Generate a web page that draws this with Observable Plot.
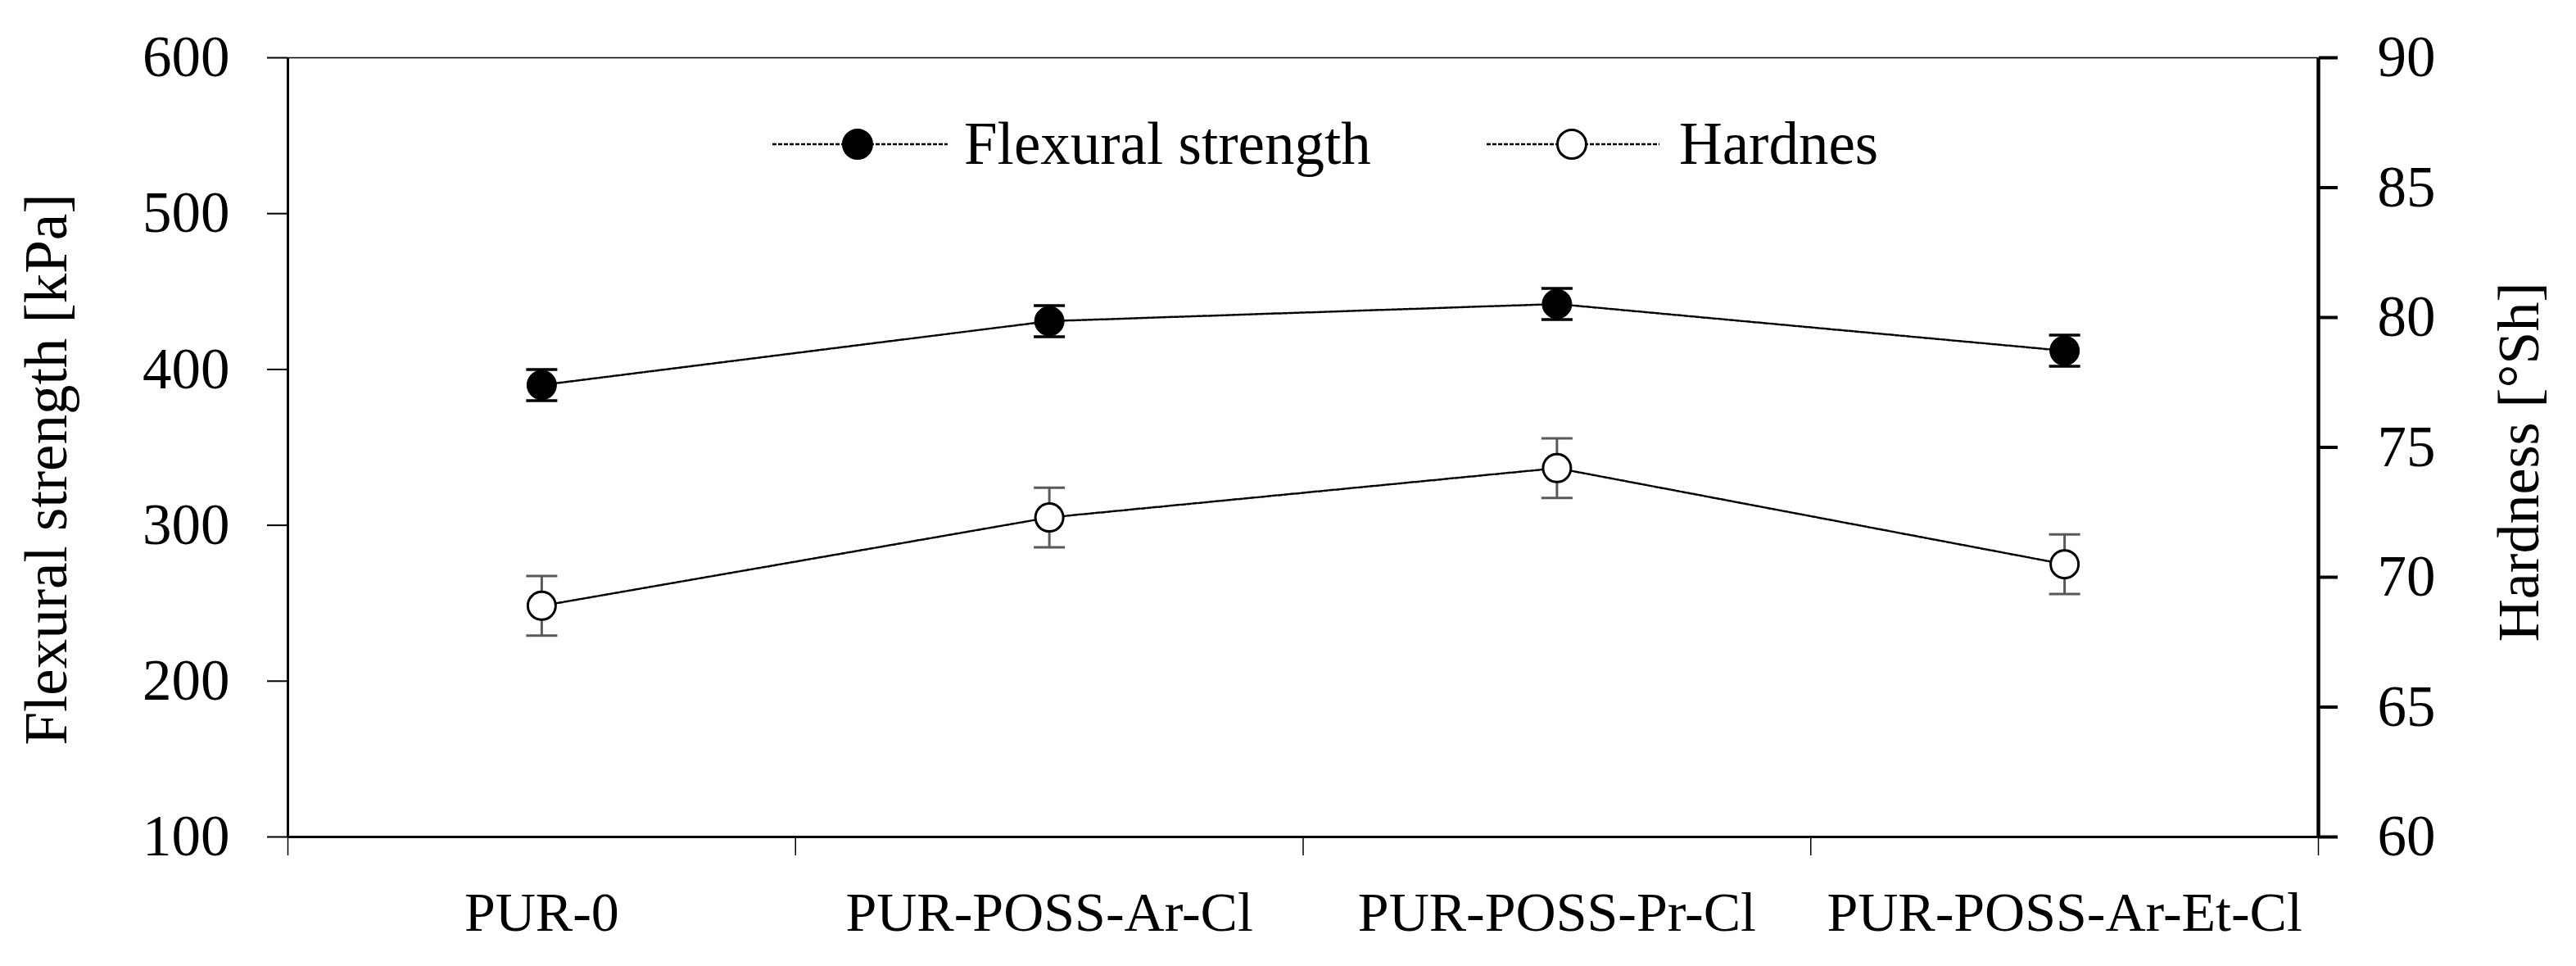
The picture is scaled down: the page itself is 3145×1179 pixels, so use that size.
<!DOCTYPE html>
<html>
<head>
<meta charset="utf-8">
<script src="https://cdn.jsdelivr.net/npm/d3@7"></script>
<script src="https://cdn.jsdelivr.net/npm/@observablehq/plot@0.6"></script>
<style>
  html, body { margin: 0; padding: 0; background: #fff; }
  #wrap { position: relative; width: 3145px; height: 1179px; }
  #legend { position: absolute; left: 0; top: 0; pointer-events: none; }
</style>
</head>
<body>
<div id="wrap"></div>
<script>
// ---- data ----
const categories = ["PUR-0", "PUR-POSS-Ar-Cl", "PUR-POSS-Pr-Cl", "PUR-POSS-Ar-Et-Cl"];
const flexural = [390, 431, 442, 412];
const flexuralErr = [10, 10, 10, 10];
const hardness = [68.9, 72.3, 74.2, 70.5];
const hardnessErr = [1.15, 1.15, 1.15, 1.15];
const leftTicks = [100, 200, 300, 400, 500, 600];
const rightTicks = [60, 65, 70, 75, 80, 85, 90];
const seriesNames = ["Flexural strength", "Hardnes"];
const leftTitle = "Flexural strength [kPa]";
const rightTitle = "Hardness [°Sh]";

// ---- scales helpers ----
const yDomain = [leftTicks[0], leftTicks[leftTicks.length - 1]];
const hDomain = [rightTicks[0], rightTicks[rightTicks.length - 1]];
const toLeft = h => yDomain[0] + (h - hDomain[0]) * (yDomain[1] - yDomain[0]) / (hDomain[1] - hDomain[0]);
const fromLeft = v => hDomain[0] + (v - yDomain[0]) * (hDomain[1] - hDomain[0]) / (yDomain[1] - yDomain[0]);
const xDomain = [0, categories.length];
const boundaries = d3.range(categories.length + 1);
const centers = categories.map((c, i) => i + 0.5);

const flexRows = categories.map((c, i) => ({x: i + 0.5, y: flexural[i], lo: flexural[i] - flexuralErr[i], hi: flexural[i] + flexuralErr[i]}));
const hardRows = categories.map((c, i) => ({x: i + 0.5, y: toLeft(hardness[i]), lo: toLeft(hardness[i] - hardnessErr[i]), hi: toLeft(hardness[i] + hardnessErr[i])}));

const capSymbol = {draw(ctx, size) { const r = Math.sqrt(size / Math.PI); ctx.moveTo(-r, 0); ctx.lineTo(r, 0); }};
const FONT = "Liberation Serif, Times New Roman, serif";
const dash = "5,2";

const chart = Plot.plot({
  width: 3145,
  height: 1179,
  marginLeft: 351,
  marginRight: 315,
  marginTop: 70,
  marginBottom: 158,
  style: {fontFamily: FONT, fontSize: "70px", color: "#000", background: "#fff", overflow: "visible"},
  x: {type: "linear", domain: xDomain},
  y: {type: "linear", domain: yDomain},
  marks: [
    // frame lines
    Plot.ruleY([yDomain[1]], {stroke: "#000", strokeWidth: 1.5}),
    Plot.ruleY([yDomain[0]], {stroke: "#000", strokeWidth: 3}),
    Plot.ruleX([xDomain[0]], {stroke: "#000", strokeWidth: 3}),
    Plot.ruleX([xDomain[1]], {stroke: "#000", strokeWidth: 4.5}),
    // axes (ticks)
    Plot.axisY({anchor: "left", ticks: leftTicks, tickSize: 25, tickPadding: 46, strokeWidth: 2, fontSize: 71, label: null}),
    Plot.axisY({anchor: "right", ticks: rightTicks.map(toLeft), tickFormat: v => String(Math.round(fromLeft(v))),
      tickSize: 23, tickPadding: 49, strokeWidth: 4, fontSize: 71, label: null}),
    Plot.axisX({ticks: boundaries, tickFormat: () => "", tickSize: 23, strokeWidth: 1.5, label: null}),
    Plot.axisX({ticks: centers, tickFormat: v => categories[Math.floor(v)], tickSize: 0, tickPadding: 66, fontSize: 68, label: null}),
    // axis titles
    Plot.text([leftTitle], {text: d => d, frameAnchor: "left", rotate: -90, lineAnchor: "top", textAnchor: "middle",
      dx: -322, dy: 27, fontSize: 73, fill: "#000"}),
    Plot.text([rightTitle], {text: d => d, frameAnchor: "right", rotate: -90, lineAnchor: "bottom", textAnchor: "middle",
      dx: 268, dy: 18, fontSize: 72, fill: "#000"}),
    // connecting lines
    Plot.line(flexRows, {x: "x", y: "y", stroke: "#000", strokeWidth: 2.5, strokeDasharray: dash}),
    Plot.line(hardRows, {x: "x", y: "y", stroke: "#000", strokeWidth: 2.5, strokeDasharray: dash}),
    // error bars
    Plot.ruleX(hardRows, {x: "x", y1: "lo", y2: "hi", stroke: "#595959", strokeWidth: 3}),
    Plot.dot(hardRows, {x: "x", y: "lo", symbol: capSymbol, r: 19, stroke: "#595959", strokeWidth: 3}),
    Plot.dot(hardRows, {x: "x", y: "hi", symbol: capSymbol, r: 19, stroke: "#595959", strokeWidth: 3}),
    Plot.ruleX(flexRows, {x: "x", y1: "lo", y2: "hi", stroke: "#000", strokeWidth: 3}),
    Plot.dot(flexRows, {x: "x", y: "lo", symbol: capSymbol, r: 19, stroke: "#000", strokeWidth: 3.5}),
    Plot.dot(flexRows, {x: "x", y: "hi", symbol: capSymbol, r: 19, stroke: "#000", strokeWidth: 3.5}),
    // markers
    Plot.dot(hardRows, {x: "x", y: "y", r: 17, fill: "#fff", stroke: "#000", strokeWidth: 3}),
    Plot.dot(flexRows, {x: "x", y: "y", r: 18, fill: "#000", stroke: "#000", strokeWidth: 1})
  ]
});

const wrap = document.getElementById("wrap");
wrap.appendChild(chart);

// ---- legend (overlay) ----
const legendItems = [
  {name: seriesNames[0], fill: "#000", x0: 943, x1: 1157, cx: 1047, tx: 1177},
  {name: seriesNames[1], fill: "#fff", x0: 1815, x1: 2026, cx: 1919, tx: 2050}
];
const leg = d3.select(wrap).append("svg").attr("id", "legend")
  .attr("width", 3145).attr("height", 260)
  .style("font-family", FONT).style("font-size", "73px");
const g = leg.selectAll("g").data(legendItems).join("g");
g.append("line").attr("x1", d => d.x0).attr("x2", d => d.x1).attr("y1", 176).attr("y2", 176)
  .attr("stroke", "#000").attr("stroke-width", 2.5).attr("stroke-dasharray", dash);
g.append("circle").attr("cx", d => d.cx).attr("cy", 176).attr("r", 17.5)
  .attr("fill", d => d.fill).attr("stroke", "#000").attr("stroke-width", 3);
g.append("text").attr("x", d => d.tx).attr("y", 200).attr("fill", "#000").text(d => d.name);
</script>
</body>
</html>
